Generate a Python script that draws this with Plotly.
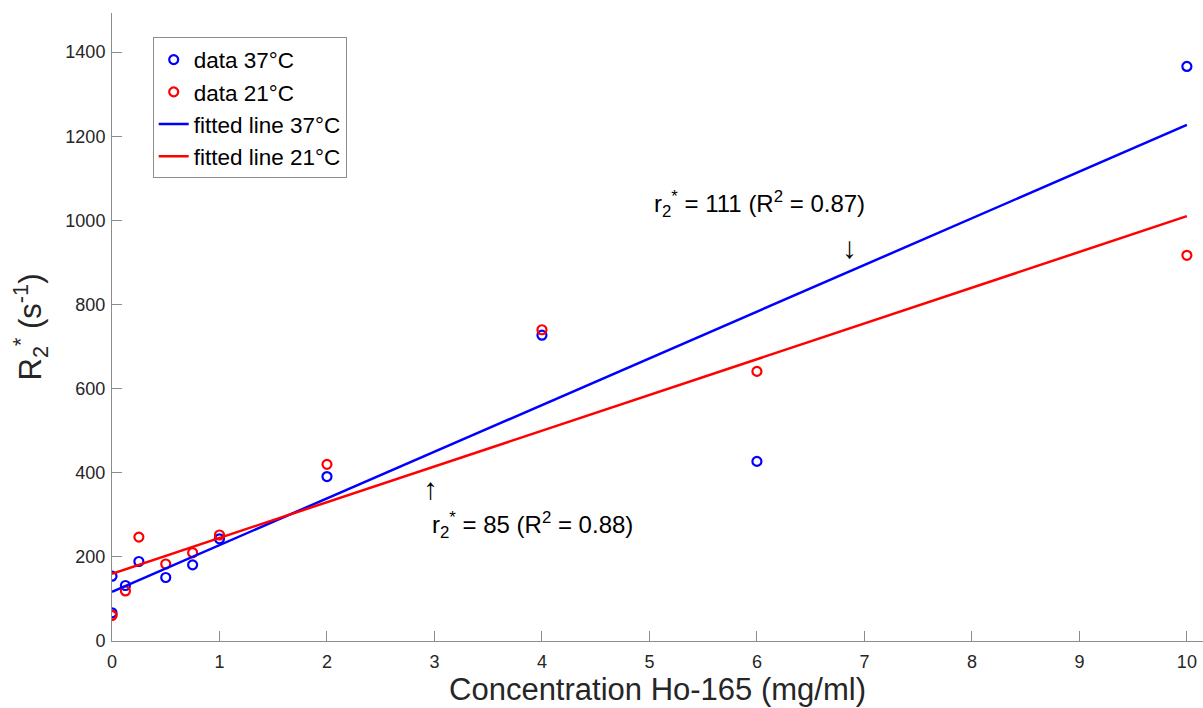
import plotly.graph_objects as go

# Data
conc = [0, 0, 0.125, 0.25, 0.5, 0.75, 1, 2, 4, 6, 10]
r2_37 = [154, 67, 132, 189, 151, 181, 243, 391, 727, 427, 1366]
r2_21 = [61, 61, 119, 247, 183, 210, 252, 420, 740, 641, 917]

fit_x = [0, 10]
slope_37, icpt_37 = 111, 117
slope_21, icpt_21 = 85, 160
fit_37 = [icpt_37 + slope_37 * x for x in fit_x]
fit_21 = [icpt_21 + slope_21 * x for x in fit_x]

x_ticks = [0, 1, 2, 3, 4, 5, 6, 7, 8, 9, 10]
y_ticks = [0, 200, 400, 600, 800, 1000, 1200, 1400]

FONT = "Liberation Sans, Arial, Helvetica, sans-serif"
BLUE = "#0000ff"
RED = "#ff0000"
AXC = "#8c8c8c"
TXT = "#262626"

fig = go.Figure()
fig.add_trace(go.Scatter(x=conc, y=r2_37, mode="markers", name="data 37°C",
                         marker=dict(symbol="circle-open", size=9, color=BLUE,
                                     line=dict(width=2.2, color=BLUE))))
fig.add_trace(go.Scatter(x=conc, y=r2_21, mode="markers", name="data 21°C",
                         marker=dict(symbol="circle-open", size=9, color=RED,
                                     line=dict(width=2.2, color=RED))))
fig.add_trace(go.Scatter(x=fit_x, y=fit_37, mode="lines", name="fitted line 37°C",
                         line=dict(color=BLUE, width=2.5)))
fig.add_trace(go.Scatter(x=fit_x, y=fit_21, mode="lines", name="fitted line 21°C",
                         line=dict(color=RED, width=2.5)))

ann_font = dict(family=FONT, size=24, color="#000000")
arrow_font = dict(family=FONT, size=30, color="#000000")
fig.add_annotation(x=5.02, y=1040, xref="x", yref="y", showarrow=False,
                   xanchor="left", yanchor="middle",
                   text="r<sub>2</sub><sup>*</sup> = 111 (R<sup>2</sup> = 0.87)", font=ann_font)
fig.add_annotation(x=6.86, y=936, xref="x", yref="y", showarrow=False,
                   xanchor="center", yanchor="middle", text="↓", font=arrow_font)
fig.add_annotation(x=2.96, y=363, xref="x", yref="y", showarrow=False,
                   xanchor="center", yanchor="middle", text="↑", font=arrow_font)
fig.add_annotation(x=2.96, y=275, xref="x", yref="y", showarrow=False,
                   xanchor="left", yanchor="middle",
                   text="r<sub>2</sub><sup>*</sup> = 85 (R<sup>2</sup> = 0.88)", font=ann_font)

fig.update_layout(
    width=1203, height=708,
    margin=dict(l=112, r=0, t=13, b=67),
    paper_bgcolor="white", plot_bgcolor="white",
    font=dict(family=FONT, color=TXT),
    showlegend=True,
    legend=dict(x=0.0373, y=0.961, xanchor="left", yanchor="top",
                bgcolor="white", bordercolor=AXC, borderwidth=1,
                font=dict(family=FONT, size=22.5, color="#000000"),
                itemwidth=30, tracegroupgap=0),
    xaxis=dict(range=[0, 10.15], tickvals=x_ticks, ticktext=[str(v) for v in x_ticks],
               showgrid=False, zeroline=False, showline=True, linecolor=AXC, linewidth=1,
               ticks="inside", ticklen=10, tickcolor=AXC, tickwidth=1,
               ticklabelstandoff=4,
               tickfont=dict(family=FONT, size=18, color=TXT),
               title=dict(text="Concentration Ho-165 (mg/ml)", standoff=4,
                          font=dict(family=FONT, size=31, color=TXT))),
    yaxis=dict(range=[0, 1493], tickvals=y_ticks, ticktext=[str(v) for v in y_ticks],
               showgrid=False, zeroline=False, showline=True, linecolor=AXC, linewidth=1,
               ticks="inside", ticklen=10, tickcolor=AXC, tickwidth=1,
               ticklabelstandoff=2,
               tickfont=dict(family=FONT, size=18, color=TXT),
               title=dict(text="R<sub>2</sub><sup>*</sup> (s<sup>-1</sup>)", standoff=14,
                          font=dict(family=FONT, size=31, color=TXT))),
)

fig.write_html("out.html")
